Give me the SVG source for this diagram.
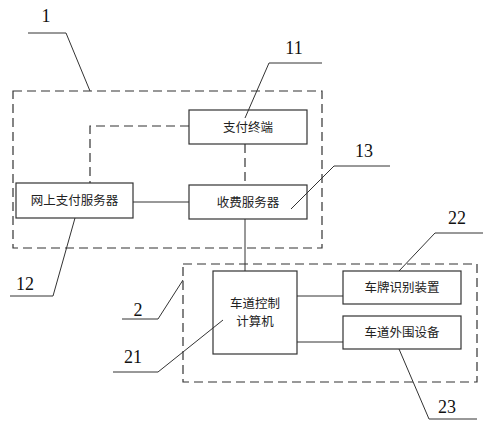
<svg xmlns="http://www.w3.org/2000/svg" width="492" height="435" viewBox="0 0 492 435">
<style>
.box{fill:#fff;stroke:#333;stroke-width:1.2}
.grp{fill:none;stroke:#333;stroke-width:1.2;stroke-dasharray:9 5}
.ln{fill:none;stroke:#333;stroke-width:1}
.dl{fill:none;stroke:#333;stroke-width:1.2;stroke-dasharray:9 5}
.t{font-family:"Noto Sans CJK SC",sans-serif;font-size:12.5px;fill:#222;text-anchor:middle}
.n{font-family:"Liberation Serif",serif;font-size:18px;fill:#111;text-anchor:middle}
</style>
<rect width="492" height="435" fill="#fff"/>
<g id="group1"><rect class="grp" x="13" y="91" width="309" height="157"/></g>
<g id="group2"><rect class="grp" x="183" y="264" width="294" height="118"/></g>
<g id="connectors">
<polyline class="dl" points="189,126 90,126 90,183"/>
<line class="dl" x1="245" y1="144" x2="245" y2="185"/>
<line class="ln" x1="133" y1="202" x2="189" y2="202"/>
<line class="ln" x1="245" y1="219" x2="245" y2="271"/>
<line class="ln" x1="297" y1="296" x2="343" y2="296"/>
<line class="ln" x1="297" y1="342" x2="343" y2="342"/>
</g>
<g id="n11"><rect class="box" x="189" y="110" width="118" height="34"/><text class="t" x="248" y="132">支付终端</text></g>
<g id="n12"><rect class="box" x="16" y="183" width="117" height="35"/><text class="t" x="74.5" y="205">网上支付服务器</text></g>
<g id="n13"><rect class="box" x="189" y="185" width="118" height="34"/><text class="t" x="248" y="207">收费服务器</text></g>
<g id="n21"><rect class="box" x="213" y="271" width="84" height="83"/><text class="t" x="255" y="308">车道控制</text><text class="t" x="255" y="326">计算机</text></g>
<g id="n22"><rect class="box" x="343" y="271" width="118" height="33"/><text class="t" x="402" y="292">车牌识别装置</text></g>
<g id="n23"><rect class="box" x="343" y="316" width="118" height="33"/><text class="t" x="402" y="337">车道外围设备</text></g>
<g id="labels">
<polyline class="ln" points="28,33 66,33 90,91"/><text class="n" x="46" y="22">1</text>
<polyline class="ln" points="322,63 269,63 245,118"/><text class="n" x="294" y="54">11</text>
<polyline class="ln" points="390,166 334,166 291,209"/><text class="n" x="364" y="157">13</text>
<polyline class="ln" points="10,296 53,296 75,218"/><text class="n" x="25" y="290">12</text>
<polyline class="ln" points="122,319 158,319 183,280"/><text class="n" x="138" y="316">2</text>
<polyline class="ln" points="113,372 158,372 223,320"/><text class="n" x="133" y="363">21</text>
<polyline class="ln" points="483,233 435,233 399,271"/><text class="n" x="457" y="224">22</text>
<polyline class="ln" points="477,419 429,419 399,349"/><text class="n" x="447" y="413">23</text>
</g>
</svg>
